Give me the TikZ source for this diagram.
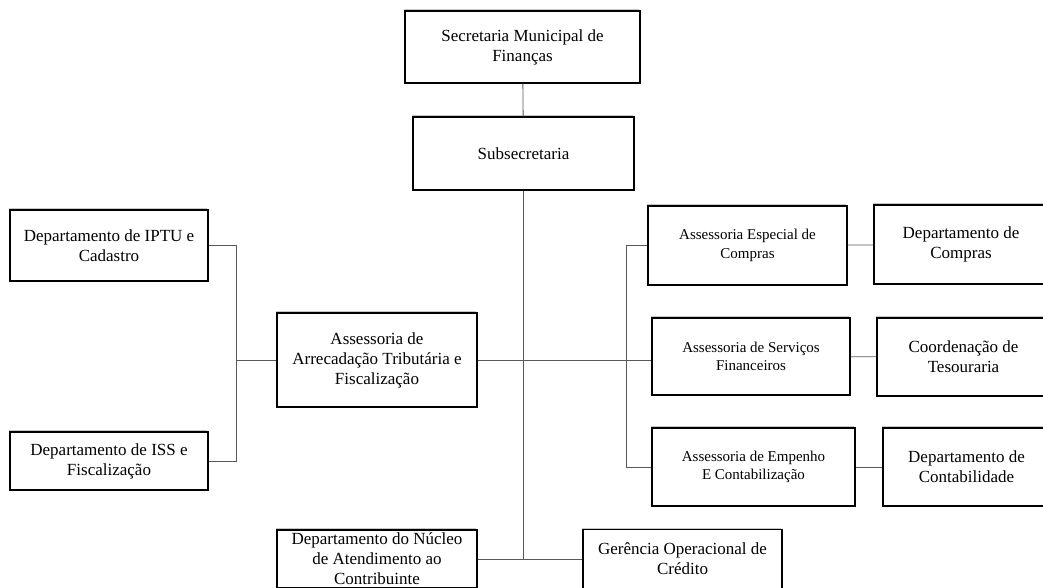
\documentclass[tikz,border=0pt]{standalone}
\usepackage{fontspec}
\setmainfont{Liberation Serif}
\usetikzlibrary{shadows}

\begin{document}
\begin{tikzpicture}[x=1pt,y=-1pt]
		\useasboundingbox (0,0) rectangle (1043,587);
		\clip (0,0) rectangle (1043,587);
		\tikzstyle{every node}=[font=\fontsize{17}{20}\selectfont]
		\tikzset{BoxStyle/.style = {draw=black,line width=1.4pt,fill=white,shape=rectangle,align=center,inner sep=2pt,
			general shadow={fill=black!22,shadow xshift=-1pt,shadow yshift=2pt}}}
		\node[BoxStyle,minimum width=235pt,minimum height=72pt] (1) at (522.5,47) {Secretaria Municipal de\\Finanças};
		\node[BoxStyle,minimum width=221pt,minimum height=73pt] (2) at (523.5,153.5) {Subsecretaria};
		\node[BoxStyle,minimum width=198pt,minimum height=71pt] (3) at (109,245.5) {Departamento de IPTU e\\Cadastro};
		\node[BoxStyle,minimum width=198pt,minimum height=58pt] (4) at (109,461) {Departamento de ISS e\\Fiscalização};
		\node[BoxStyle,minimum width=200pt,minimum height=94pt] (5) at (377,360) {Assessoria de\\Arrecadação Tributária e\\Fiscalização};
		{
			\tikzset{BoxStyle/.append style = {font=\fontsize{15}{18.5}\selectfont}}
			\node[BoxStyle,minimum width=199pt,minimum height=79pt] (6) at (747.5,245.5) {Assessoria Especial de\\Compras};
			\node[BoxStyle,minimum width=198pt,minimum height=77pt] (8) at (751,356.5) {Assessoria de Serviços\\Financeiros};
			\node[BoxStyle,minimum width=203pt,minimum height=78pt] (10) at (753.5,467) {Assessoria de Empenho\\E Contabilização};
		}
		\node[BoxStyle,minimum width=174pt,minimum height=79pt] (7) at (961,244.5) {Departamento de\\Compras};
		\node[BoxStyle,minimum width=173pt,minimum height=78pt] (9) at (963.5,357) {Coordenação de\\Tesouraria};
		\node[BoxStyle,minimum width=167pt,minimum height=78pt] (11) at (966.5,467) {Departamento de\\Contabilidade};
		\node[BoxStyle,minimum width=200pt,minimum height=58pt] (12) at (377,559) {Departamento do Núcleo\\de Atendimento ao\\Contribuinte};
		\node[BoxStyle,minimum width=199pt,minimum height=59pt] (13) at (682.5,559) {Gerência Operacional de\\Crédito};
		\coordinate (l) at (236,0);
		\coordinate (r) at (626,0);
		\tikzstyle{EdgeStyle}=[draw=black!65,line width=0.8pt]
		\draw[EdgeStyle] (1) -- (2);
		\draw[EdgeStyle] (2.south) -- (2.south |- 12.east);
		\draw[EdgeStyle] (12) -- (13);
		% left side
		\draw[EdgeStyle] (3.east) -- (3.east -| l) -- (4.east -| l) -- (4.east);
		\draw[EdgeStyle] (l |- 5.west) -- (5.west);
		% right side
		\draw[EdgeStyle] (5.east) -- (5.east -| 8.west);
		\draw[EdgeStyle] (6.west) -- (6.west -| r) -- (10.west -| r) -- (10.west);
		\draw[EdgeStyle] (6) -- (7);
		\draw[EdgeStyle] (8) -- (9);
		\draw[EdgeStyle] (10) -- (11);
	\end{tikzpicture}
\end{document}
